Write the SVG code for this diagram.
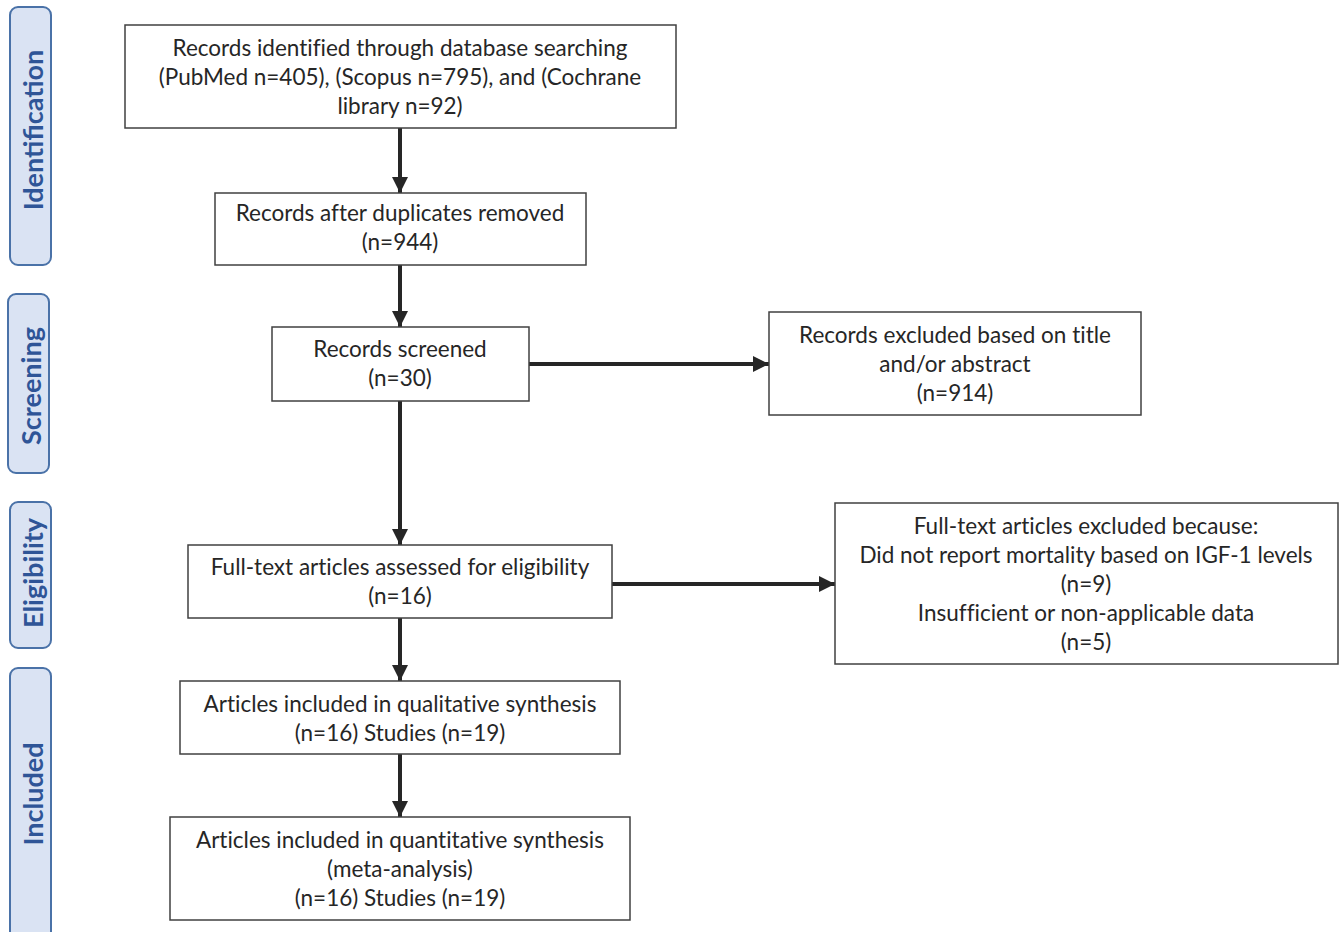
<svg xmlns="http://www.w3.org/2000/svg" width="1340" height="932" viewBox="0 0 1340 932">
<style>
.lane rect{fill:#dae3f3;stroke:#4a72a8;stroke-width:2}
.lane text{font-family:Lato,"Open Sans",sans-serif;font-weight:bold;font-size:27px;fill:#2f5597;text-anchor:middle;dominant-baseline:central}
.node rect{fill:#fff;stroke:#404040;stroke-width:1.5}
.node text{font-family:Lato,"Open Sans",sans-serif;font-size:22.5px;fill:#262626;text-anchor:middle;font-variant-ligatures:none}
.conn line{stroke:#262626;stroke-width:4}
</style>
<defs>
<marker id="ah" viewBox="0 0 10 10" refX="10" refY="5" markerWidth="4" markerHeight="4" orient="auto" markerUnits="strokeWidth">
<path d="M0,0 L10,5 L0,10 z" fill="#262626"/>
</marker>
</defs>
<rect width="1340" height="932" fill="#fff"/>
<g id="lane-identification" class="lane"><rect x="10" y="7" width="41" height="258" rx="8"/><text transform="translate(32,130) rotate(-90)">Identification</text></g>
<g id="lane-screening" class="lane"><rect x="8" y="294" width="41" height="179" rx="8"/><text transform="translate(30,386) rotate(-90)">Screening</text></g>
<g id="lane-eligibility" class="lane"><rect x="10" y="502" width="41" height="146" rx="8"/><text transform="translate(32,573) rotate(-90)">Eligibility</text></g>
<g id="lane-included" class="lane"><rect x="10" y="668" width="41" height="280" rx="8"/><text transform="translate(32,794) rotate(-90)">Included</text></g>

<g class="conn" id="connectors">
<line x1="400" y1="128" x2="400" y2="193" marker-end="url(#ah)"/>
<line x1="400" y1="265" x2="400" y2="327" marker-end="url(#ah)"/>
<line x1="400" y1="401" x2="400" y2="545" marker-end="url(#ah)"/>
<line x1="400" y1="618" x2="400" y2="681" marker-end="url(#ah)"/>
<line x1="400" y1="754" x2="400" y2="817" marker-end="url(#ah)"/>
<line x1="529" y1="364" x2="769" y2="364" marker-end="url(#ah)"/>
<line x1="612" y1="584" x2="835" y2="584" marker-end="url(#ah)"/>
</g>

<g id="n1" class="node"><rect x="125" y="25" width="551" height="103"/>
<text x="400" y="56">Records identified through database searching</text>
<text x="400" y="85">(PubMed n=405), (Scopus n=795), and (Cochrane</text>
<text x="400" y="114">library n=92)</text></g>
<g id="n2" class="node"><rect x="215" y="193" width="371" height="72"/>
<text x="400" y="221">Records after duplicates removed</text>
<text x="400" y="250">(n=944)</text></g>
<g id="n3" class="node"><rect x="272" y="327" width="257" height="74"/>
<text x="400" y="357">Records screened</text>
<text x="400" y="386">(n=30)</text></g>
<g id="n4" class="node"><rect x="769" y="312" width="372" height="103"/>
<text x="955" y="343">Records excluded based on title</text>
<text x="955" y="372">and/or abstract</text>
<text x="955" y="401">(n=914)</text></g>
<g id="n5" class="node"><rect x="188" y="545" width="424" height="73"/>
<text x="400" y="575">Full-text articles assessed for eligibility</text>
<text x="400" y="604">(n=16)</text></g>
<g id="n6" class="node"><rect x="835" y="503" width="503" height="161"/>
<text x="1086" y="534">Full-text articles excluded because:</text>
<text x="1086" y="563">Did not report mortality based on IGF-1 levels</text>
<text x="1086" y="592">(n=9)</text>
<text x="1086" y="621">Insufficient or non-applicable data</text>
<text x="1086" y="650">(n=5)</text></g>
<g id="n7" class="node"><rect x="180" y="681" width="440" height="73"/>
<text x="400" y="712">Articles included in qualitative synthesis</text>
<text x="400" y="741">(n=16) Studies (n=19)</text></g>
<g id="n8" class="node"><rect x="170" y="817" width="460" height="103"/>
<text x="400" y="848">Articles included in quantitative synthesis</text>
<text x="400" y="877">(meta-analysis)</text>
<text x="400" y="906">(n=16) Studies (n=19)</text></g>
</svg>
